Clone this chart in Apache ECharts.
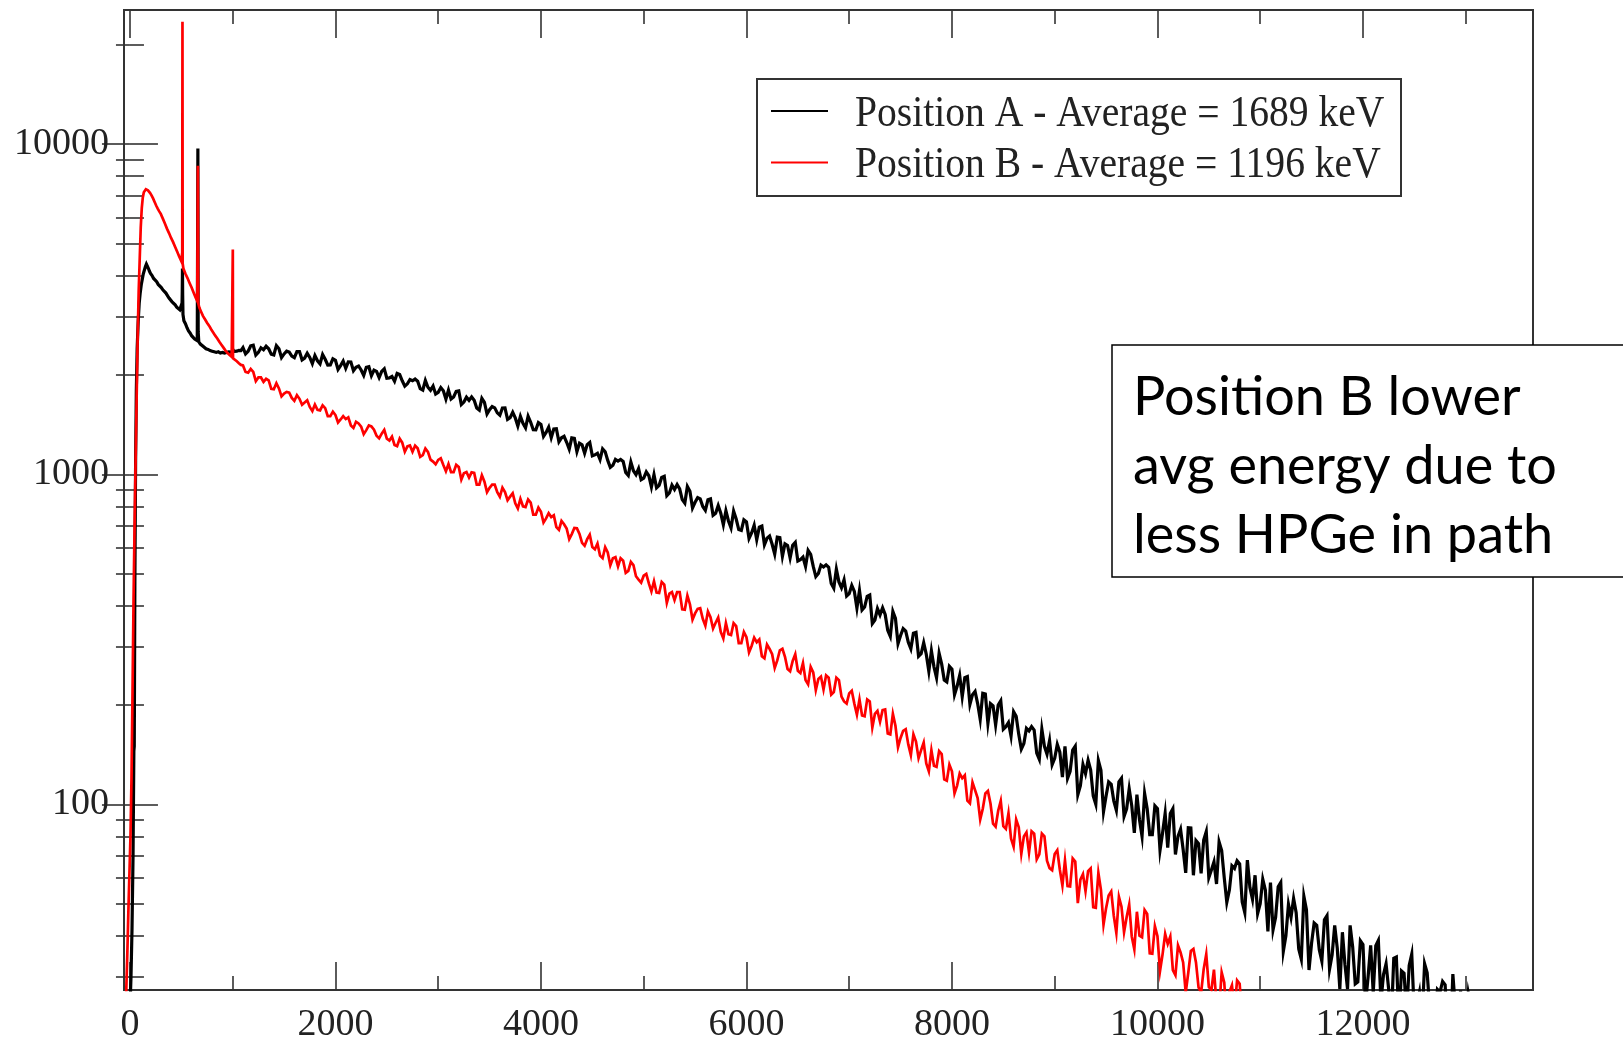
<!DOCTYPE html>
<html><head><meta charset="utf-8">
<script src="https://cdn.jsdelivr.net/npm/echarts@6/dist/echarts.min.js"></script>
<style>html,body{margin:0;padding:0;background:#fff}#chart{width:1623px;height:1044px}</style>
</head><body><div id="chart"></div>
<script>
// ---------- data ----------
// Position A (black): low-energy detail as [keV, counts]
const lowA = [[-20,20],[0,24],[10,30],[20,42],[30,70],[38,145],[42,150],[48,480],[55,1100],[62,1800],[70,2400],[80,2900],[90,3300],[100,3550],[110,3750],[120,3900],[130,4050],[140,4150],[150,4250],[160,4330],[170,4280],[180,4200],[190,4120],[200,4060],[215,4000],[230,3920],[245,3950],[260,3830],[275,3760],[290,3740],[305,3680],[320,3620],[335,3640],[350,3540],[365,3480],[380,3420],[395,3380],[410,3330],[425,3300],[440,3260],[455,3210],[470,3180],[485,3150],[500,3160],[507,3300],[509,3600],[511,4200],[513,3500],[516,3050],[525,2920],[540,2860],[555,2780],[570,2720],[585,2680],[600,2630],[615,2600],[630,2570],[645,2550],[655,2540],[659,5900],[661,9700],[664,2700],[670,2520],[685,2480],[700,2450],[720,2430],[740,2400],[760,2390],[780,2370],[800,2360],[820,2350],[840,2340],[860,2350],[880,2330],[900,2340],[920,2330],[940,2340],[960,2350],[980,2345],[1000,2360],[1002,2400],[1004,2355],[1020,2365],[1040,2360],[1060,2375],[1080,2370]];
// Position A counts, 50 keV bins starting at 1100 keV
const bulkStartA = 1100;
const bulkA = [2420,2360,2460,2340,2385,2400,2300,2400,2315,2345,2255,2355,2250,2260,2290,2160,2230,2145,2215,2135,
2095,2190,2110,2070,2110,1990,2050,2050,1955,1978,2020,1920,1880,1920,1915,1800,1835,1850,1772,1790,
1800,1715,1790,1655,1675,1675,1565,1652,1570,1590,1510,1590,1485,1482,1498,1382,1438,1364,1416,1340,
1292,1375,1290,1250,1290,1171,1229,1230,1137,1158,1195,1102,1065,1097,1094,992,1025,1040,974,990,
998,926,986,878,900,903,818,889,823,842,778,842,762,762,775,688,732,676,718,664,
634,697,640,614,645,564,609,610,546,561,588,526,501,524,523,452,472,479,435,442,
445,396,431,362,375,376,323,366,325,335,296,332,286,285,292,242,266,235,257,228,
212,244,215,202,217,176,199,200,169,177,191,163,153,167,168,137,150,156,138,144,
150,126,150,114,124,127,100,127,106,115,96,120,97,99,107,80,97,81,97,82,
74,97,80,73,85,61,76,78,60,67,77,60,55,64,66,47,56,61,50,55,
58,45.5,58,40,45.5,47,34,48,38,43,33.5,46,35,36.7,41,27.6,37,29,37.6,30,
26.9,38.7,30.5,27.6,34.2,22,30.8,32.5,23,27,32.9,24,21.4,27,28.4,18.4,24,27.3,21.2,24.3,20];
// Position A counts, in-between 50 keV bins starting at 1125 keV
const midStartA = 1125;
const midA = [2317,2448,2296,2417,2443,2312,2454,2256,2360,2280,2354,2222,2326,2164,2207,2306,2143,2237,2078,2203,
2192,2059,2129,1993,2118,2069,1964,2087,1958,1914,2005,1849,1937,1943,1817,1924,1797,1751,1831,1689,
1690,1784,1627,1713,1716,1588,1698,1523,1605,1535,1588,1467,1541,1400,1427,1499,1365,1434,1303,1389,
1372,1254,1303,1192,1285,1242,1158,1248,1145,1108,1171,1050,1110,1109,1013,1089,998,963,1017,915,
910,978,861,927,931,838,919,791,850,799,837,751,804,703,722,773,680,728,639,701,
692,612,650,573,643,616,558,622,551,526,572,490,531,532,467,516,453,428,461,393,
388,427,353,392,394,337,384,307,341,310,330,281,309,253,261,287,238,262,215,246,
242,201,220,181,216,202,174,206,172,161,185,147,170,172,143,169,142,132,152,121,
120,146,107,132,136,106,136,95,117,102.5,117,92,111.5,82,90,108,81,99,72.6,94,
93.8,70.5,84.1,62,84.8,77.7,61.8,82.7,63.3,57.4,72.5,50.5,65.2,67.5,50.6,67.8,51.6,46.7,59.3,41.2,
41.7,56.3,35.9,49.8,51.9,36.5,52.7,31.5,43.7,36.3,44.7,31.7,43,27.6,32.7,43,28.6,38.6,24.9,37.4,
37.3,25.3,32.9,21.7,34.5,31.3,23.1,35.2,24.8,21.9,30.9,18.8,27.5,29.1,19.9,30.6,21.6,19,26.8,16.2];

// Position B (red): low-energy detail as [keV, counts]
const lowB = [[-45,22],[-35,28],[-25,36],[-15,48],[-5,62],[5,80],[15,120],[25,220],[35,420],[45,700],[55,1100],[65,1700],[75,2600],[85,3600],[95,4500],[105,5600],[115,6400],[125,6900],[135,7150],[145,7250],[155,7300],[165,7200],[175,7250],[185,7180],[195,7120],[210,7000],[225,6850],[240,6680],[255,6520],[270,6380],[285,6260],[300,6150],[320,5950],[340,5750],[360,5550],[380,5380],[400,5200],[420,5050],[440,4880],[460,4720],[480,4560],[500,4420],[507,4450],[509,4700],[511,23500],[513,4350],[520,4200],[540,4050],[560,3930],[580,3800],[600,3680],[620,3550],[640,3430],[655,3350],[659,3350],[661,8600],[664,3300],[675,3200],[690,3120],[710,3020],[730,2950],[750,2880],[770,2820],[790,2750],[810,2690],[830,2630],[850,2580],[870,2520],[890,2470],[910,2420],[930,2370],[950,2330],[970,2300],[990,2270],[999,2255],[1001,4800],[1003,2245],[1020,2220],[1040,2200],[1060,2170],[1080,2145]];
// Position B counts, 50 keV bins starting at 1100 keV
const bulkStartB = 1100;
const bulkB = [2137,2032,2042,1965,1905,1925,1810,1820,1756,1768,1669,1693,1650,1599,1626,1562,1587,1500,1512,1466,
1470,1406,1443,1395,1361,1396,1308,1328,1282,1300,1217,1247,1215,1171,1199,1143,1169,1093,1106,1067,
1074,1015,1052,1008,977,1010,930,950,910,930,855,884,856,817,843,796,821,755,770,735,
742,692,722,685,659,686,620,636,602,617,557,580,557,526,547,510,531,480,493,467,
474,437,463,435,416,440,389,404,379,393,348,369,355,333,354,326,347,308,321,302,
310,281,305,285,273,296,257,272,254,268,231,251,240,223,242,219,238,205,217,202,
208,185,205,188,178,194,163,173,159,169,141,155,146,133,146,130,142,118,126,114,
120,102.6,116.6,104.5,97,109.8,87.4,95.7,85.9,94,74.4,85.3,80,71.5,81.5,70.6,80,64.1,70.7,63.4,
67.7,56.4,67.1,59.2,54.6,64,48.6,55.1,48.5,54.5,40.8,49,45.5,39.8,47.3,39.6,46.6,35.3,39.9,35.2,
37.8,31.5,37.4,33.2,30.9,36.5,27.9,31.7,28,31.6,23.8,28.9,27,23.9,28.6,24.2];
// Position B counts, in-between 50 keV bins starting at 1125 keV
const midStartB = 1125;
const midB = [2042,2086,1915,1965,1946,1815,1888,1723,1776,1704,1736,1625,1676,1554,1568,1618,1500,1548,1435,1501,
1488,1382,1426,1323,1406,1365,1285,1364,1266,1227,1282,1170,1223,1221,1130,1197,1108,1072,1119,1021,
1015,1068,964,1016,1014,930,994,883,930,883,911,835,876,788,800,839,755,793,714,762,
751,679,706,636,688,660,608,656,593,567,601,530,561,557,503,543,491,470,499,442,
438,472,408,440,440,390,429,363,391,365,384,341,368,318,328,354,308,333,289,320,
316,277,296,259,293,280,253,285,250,238,261,222,244,246,215,242,212,202,221,187,
186,208,171,192,193,164,188,149,167,152,163,138,154,126,131,145,119,132,108,124,
122.5,100.8,110.5,90,107.9,100.6,85.6,102.5,84.3,78.8,90,70.8,82.3,82.9,68.2,81.6,67.5,63.2,72.6,56.8,
56.6,68.6,50.2,61.5,62.8,48.8,62,43.2,53,46,52.5,41,49.7,36.4,40,47.9,35.4,42.8,31.3,40.5,
39.8,30.4,35.6,26.9,36,33.2,26.9,35.2,27.4,24.9,31,22.3,28.3,29.3,22.6];
const binStep = 50;

const seriesNames = ['Position A - Average = 1689 keV', 'Position B - Average = 1196 keV'];
const noteLines = ['Position B lower', 'avg energy due to', 'less HPGe in path'];

const xMajorTicks = [0,2000,4000,6000,8000,10000,12000];
const xMinorTicks = [1000,3000,5000,7000,9000,11000,13000];
const yMajorTicks = [100,1000,10000];
const yMinorTicks = [30,40,50,60,70,80,90,200,300,400,500,600,700,800,900,2000,3000,4000,5000,6000,7000,8000,9000,20000];

// ---------- chart ----------
function buildSeries(low, start, bulk, midStart, mid) {
  const out = low.slice();
  bulk.forEach((v, i) => out.push([start + i * binStep, v]));
  mid.forEach((v, i) => out.push([midStart + i * binStep, v]));
  out.sort((a, b) => a[0] - b[0]);
  return out;
}
const X_MIN = -58, X_MAX = 13655, Y_MIN = 27.4, Y_MAX = 25500;
const tickLine = {color: '#333', width: 1.6};
const serif = '"Liberation Serif", "Times New Roman", serif';
const sans = 'Lato, "Open Sans", sans-serif';

function xAx(pos, ticks, len, withLabels) {
  return {
    type: 'value', position: pos, min: X_MIN, max: X_MAX, gridIndex: 0,
    axisLine: {show: false}, splitLine: {show: false},
    axisTick: {show: true, inside: true, length: len, lineStyle: tickLine, customValues: ticks},
    axisLabel: withLabels ? {show: true, customValues: ticks, margin: 16, fontFamily: serif, fontSize: 38, color: '#222', formatter: v => String(v)} : {show: false}
  };
}
function yAx(pos, ticks, len, withLabels) {
  return {
    type: 'log', logBase: 10, position: pos, min: Y_MIN, max: Y_MAX, gridIndex: 0,
    axisLine: {show: false}, splitLine: {show: false}, minorTick: {show: false},
    axisTick: {show: true, inside: true, length: len, lineStyle: tickLine, customValues: ticks},
    axisLabel: withLabels ? {show: true, customValues: ticks, margin: 15, padding: [11, 0, 0, 0], fontFamily: serif, fontSize: 38, color: '#222', formatter: v => String(Math.round(v))} : {show: false}
  };
}

const chart = echarts.init(document.getElementById('chart'), null, {renderer: 'canvas'});
const option = {
  animation: false,
  backgroundColor: '#fff',
  grid: {left: 124, top: 10, right: 90, bottom: 47, show: true, borderColor: '#333', borderWidth: 2, containLabel: false},
  xAxis: [xAx('bottom', xMajorTicks, 28, true), xAx('bottom', xMinorTicks, 14, false), xAx('top', xMajorTicks, 28, false), xAx('top', xMinorTicks, 14, false)],
  yAxis: [yAx('left', yMajorTicks, 28, true), yAx('left', yMinorTicks, 14, false), yAx('right', yMajorTicks, 28, false), yAx('right', yMinorTicks, 14, false)],
  series: [
    {type: 'line', name: seriesNames[0], xAxisIndex: 0, yAxisIndex: 0, data: buildSeries(lowA, bulkStartA, bulkA, midStartA, midA),
     symbol: 'none', clip: true, silent: true, z: 2, lineStyle: {color: '#000', width: 3.2, join: 'miter'}, itemStyle: {color: '#000'}},
    {type: 'line', name: seriesNames[1], xAxisIndex: 0, yAxisIndex: 0, data: buildSeries(lowB, bulkStartB, bulkB, midStartB, midB),
     symbol: 'none', clip: true, silent: true, z: 3, lineStyle: {color: '#ff0000', width: 2.7, join: 'miter'}, itemStyle: {color: '#ff0000'}}
  ],
  graphic: [
    {type: 'rect', z: 100, shape: {x: 757, y: 79, width: 644, height: 117}, style: {fill: '#fff', stroke: '#333', lineWidth: 2}},
    {type: 'line', z: 101, shape: {x1: 771, y1: 111, x2: 828, y2: 111}, style: {stroke: '#000', lineWidth: 2}},
    {type: 'line', z: 101, shape: {x1: 771, y1: 162.5, x2: 828, y2: 162.5}, style: {stroke: '#ff0000', lineWidth: 2}},
    {type: 'text', z: 101, x: 855, y: 114, scaleY: 1.12, style: {text: seriesNames[0], fontFamily: serif, fontSize: 39.6, fill: '#222', verticalAlign: 'middle', align: 'left'}},
    {type: 'text', z: 101, x: 855, y: 165, scaleY: 1.12, style: {text: seriesNames[1], fontFamily: serif, fontSize: 39.6, fill: '#222', verticalAlign: 'middle', align: 'left'}},
    {type: 'rect', z: 110, shape: {x: 1112, y: 345, width: 560, height: 232}, style: {fill: '#fff', stroke: '#000', lineWidth: 1.5}},
    {type: 'text', z: 111, x: 1133, y: 398, style: {text: noteLines[0], fontFamily: sans, fontSize: 54, fill: '#000', verticalAlign: 'middle', align: 'left'}},
    {type: 'text', z: 111, x: 1133, y: 467, style: {text: noteLines[1], fontFamily: sans, fontSize: 54, fill: '#000', verticalAlign: 'middle', align: 'left'}},
    {type: 'text', z: 111, x: 1133, y: 536, style: {text: noteLines[2], fontFamily: sans, fontSize: 54, fill: '#000', verticalAlign: 'middle', align: 'left'}}
  ]
};
chart.setOption(option);
</script></body></html>
